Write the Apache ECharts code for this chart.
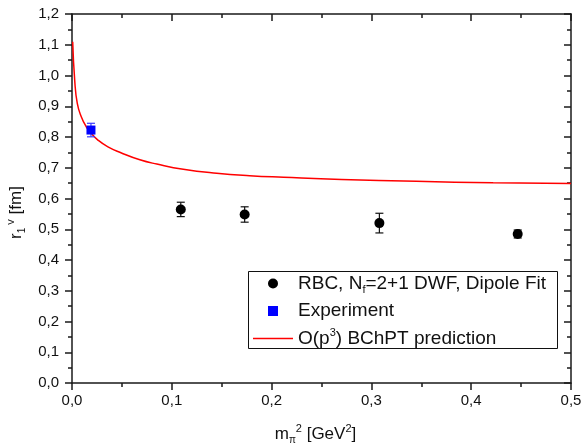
<!DOCTYPE html>
<html>
<head>
<meta charset="utf-8">
<script src="https://cdn.jsdelivr.net/npm/echarts@6/dist/echarts.min.js"></script>
<style>
html,body{margin:0;padding:0;background:#fff;}
#c{width:582px;height:446px;}
</style>
</head>
<body>
<div id="c"></div>
<script>
// ---- data ----
const rbcX   = [0.109, 0.173, 0.308, 0.4466];
const rbcY   = [0.5645, 0.548, 0.520, 0.4846];
const rbcErr = [0.0234, 0.025, 0.032, 0.013];

const expX   = [0.019];
const expY   = [0.8226];
const expErr = [0.022];

const curveX = [0.0007, 0.0027, 0.0053, 0.0093, 0.0143, 0.0193, 0.026, 0.036, 0.049, 0.068, 0.085, 0.1115, 0.145, 0.178, 0.212, 0.27, 0.345, 0.422, 0.5];
const curveY = [1.11, 0.985, 0.909, 0.866, 0.833, 0.812, 0.79, 0.768, 0.749, 0.726, 0.712, 0.695, 0.682, 0.674, 0.669, 0.662, 0.656, 0.651, 0.649];

const xTicks = [0, 0.1, 0.2, 0.3, 0.4, 0.5];
const yTicks = [0, 0.1, 0.2, 0.3, 0.4, 0.5, 0.6, 0.7, 0.8, 0.9, 1.0, 1.1, 1.2];

const nameRBC = 'RBC, Nf=2+1 DWF, Dipole Fit';
const nameExp = 'Experiment';
const namePred = 'O(p3) BChPT prediction';

// ---- build ----
const FONT = 'Arial, "Liberation Sans", sans-serif';
const AX = '#1a1a1a';
const zip = (xs, ys) => xs.map((x, i) => [x, ys[i]]);
const zip3 = (xs, ys, es) => xs.map((x, i) => [x, ys[i], es[i]]);
const fmt = v => v.toFixed(1).replace('.', ',');

function errRender(color) {
  return function (params, api) {
    const x = api.value(0), y = api.value(1), e = api.value(2);
    const hi = api.coord([x, y + e]);
    const lo = api.coord([x, y - e]);
    const h = 4;
    const st = { stroke: color, lineWidth: 1.2 };
    return {
      type: 'group',
      children: [
        { type: 'line', shape: { x1: hi[0], y1: hi[1], x2: lo[0], y2: lo[1] }, style: st },
        { type: 'line', shape: { x1: hi[0] - h, y1: hi[1], x2: hi[0] + h, y2: hi[1] }, style: st },
        { type: 'line', shape: { x1: lo[0] - h, y1: lo[1], x2: lo[0] + h, y2: lo[1] }, style: st }
      ]
    };
  };
}

const baseAxis = {
  type: 'value',
  splitLine: { show: false },
  axisLine: { show: true, onZero: false, lineStyle: { color: AX, width: 1.5 } },
  axisTick: { show: true, inside: false, length: 7, lineStyle: { color: AX, width: 1.5 } },
  minorTick: { show: true, splitNumber: 2, length: 4, lineStyle: { color: AX, width: 1.5 } },
  minorSplitLine: { show: false }
};

const chart = echarts.init(document.getElementById('c'), null, { renderer: 'canvas' });
chart.setOption({
  animation: false,
  backgroundColor: '#fff',
  textStyle: { fontFamily: FONT },
  grid: { left: 72, right: 11, top: 14, bottom: 63, containLabel: false, outerBoundsMode: 'none' },
  xAxis: [
    Object.assign({}, baseAxis, {
      position: 'bottom',
      min: xTicks[0], max: xTicks[xTicks.length - 1], interval: 0.1,
      axisLabel: { show: true, margin: 10, color: '#111', fontSize: 15, fontFamily: FONT, formatter: fmt },
      name: '{t|m}{s|π}{p|2}{t| [GeV}{p|2}{t|]}',
      nameLocation: 'middle',
      nameGap: 40,
      nameTextStyle: {
        fontFamily: FONT, color: '#111',
        padding: [0, 12, 0, 0],
        rich: {
          t: { fontSize: 17, lineHeight: 22, fontFamily: FONT, color: '#111' },
          s: { fontSize: 10, lineHeight: 10, verticalAlign: 'bottom', fontFamily: FONT, color: '#111' },
          p: { fontSize: 11, lineHeight: 11, verticalAlign: 'top', fontFamily: FONT, color: '#111' }
        }
      }
    }),
    Object.assign({}, baseAxis, {
      position: 'top',
      min: xTicks[0], max: xTicks[xTicks.length - 1], interval: 0.1,
      axisTick: { show: true, inside: true, length: 7, lineStyle: { color: AX, width: 1.5 } },
      minorTick: { show: true, splitNumber: 2, length: 4, lineStyle: { color: AX, width: 1.5 } },
      axisLabel: { show: false }
    })
  ],
  yAxis: [
    Object.assign({}, baseAxis, {
      position: 'left',
      min: yTicks[0], max: yTicks[yTicks.length - 1], interval: 0.1,
      axisLabel: { show: true, margin: 13, color: '#111', fontSize: 15, fontFamily: FONT, formatter: fmt },
      name: '{t|r}{s|1}{p| v}{t| [fm]}',
      nameLocation: 'middle',
      nameRotate: 90,
      nameGap: 42,
      nameTextStyle: {
        fontFamily: FONT, color: '#111',
        padding: [0, 28, 0, 0],
        rich: {
          t: { fontSize: 17, lineHeight: 22, fontFamily: FONT, color: '#111' },
          s: { fontSize: 10, lineHeight: 10, verticalAlign: 'bottom', fontFamily: FONT, color: '#111' },
          p: { fontSize: 11, lineHeight: 11, verticalAlign: 'top', fontFamily: FONT, color: '#111' }
        }
      }
    }),
    Object.assign({}, baseAxis, {
      position: 'right',
      min: yTicks[0], max: yTicks[yTicks.length - 1], interval: 0.1,
      axisTick: { show: true, inside: true, length: 7, lineStyle: { color: AX, width: 1.5 } },
      minorTick: { show: true, splitNumber: 2, length: 4, lineStyle: { color: AX, width: 1.5 } },
      axisLabel: { show: false }
    })
  ],
  legend: {
    orient: 'vertical',
    left: 248, top: 271,
    padding: [3, 5, 5, 5],
    itemWidth: 40, itemHeight: 10,
    itemGap: 6.5,
    symbolKeepAspect: true,
    data: [
      { name: nameRBC, icon: 'circle' },
      { name: nameExp, icon: 'path://M0,0L10,0L10,10L0,10Z' },
      { name: namePred, icon: 'path://M0,0L40,0L40,1.5L0,1.5Z' }
    ],
    formatter: function (n) {
      if (n === nameRBC) return '{t|RBC, N}{s|f}{t|=2+1 DWF, Dipole Fit}';
      if (n === namePred) return '{t|O(p}{p|3}{t|) BChPT prediction}';
      return '{t|' + n + '}';
    },
    textStyle: {
      fontFamily: FONT, color: '#111',
      rich: {
        t: { fontSize: 19, lineHeight: 23, fontFamily: FONT, color: '#111' },
        s: { fontSize: 11, lineHeight: 11, verticalAlign: 'bottom', fontFamily: FONT, color: '#111' },
        p: { fontSize: 11, lineHeight: 11, verticalAlign: 'top', fontFamily: FONT, color: '#111' }
      }
    }
  },
  graphic: [
    { type: 'rect', z: 100, shape: { x: 248.5, y: 271.5, width: 309, height: 77 }, style: { fill: null, stroke: '#111', lineWidth: 1 } }
  ],
  series: [
    {
      name: namePred, type: 'line', xAxisIndex: 0, yAxisIndex: 0,
      data: zip(curveX, curveY), symbol: 'none', smooth: 0.5,
      lineStyle: { color: '#ff0000', width: 1.5 }, itemStyle: { color: '#ff0000' }, z: 2
    },
    {
      name: nameRBC + '_err', type: 'custom', xAxisIndex: 0, yAxisIndex: 0,
      renderItem: errRender('#111'), data: zip3(rbcX, rbcY, rbcErr),
      encode: { x: 0, y: [1] }, z: 3, silent: true
    },
    {
      name: nameExp + '_err', type: 'custom', xAxisIndex: 0, yAxisIndex: 0,
      renderItem: errRender('#3a3aff'), data: zip3(expX, expY, expErr),
      encode: { x: 0, y: [1] }, z: 3, silent: true
    },
    {
      name: nameRBC, type: 'scatter', xAxisIndex: 0, yAxisIndex: 0,
      data: zip(rbcX, rbcY), symbol: 'circle', symbolSize: 10,
      itemStyle: { color: '#000', opacity: 1 }, z: 4
    },
    {
      name: nameExp, type: 'scatter', xAxisIndex: 0, yAxisIndex: 0,
      data: zip(expX, expY), symbol: 'rect', symbolSize: 9,
      itemStyle: { color: '#0000ff', opacity: 1 }, z: 4
    }
  ]
});
</script>
</body>
</html>
